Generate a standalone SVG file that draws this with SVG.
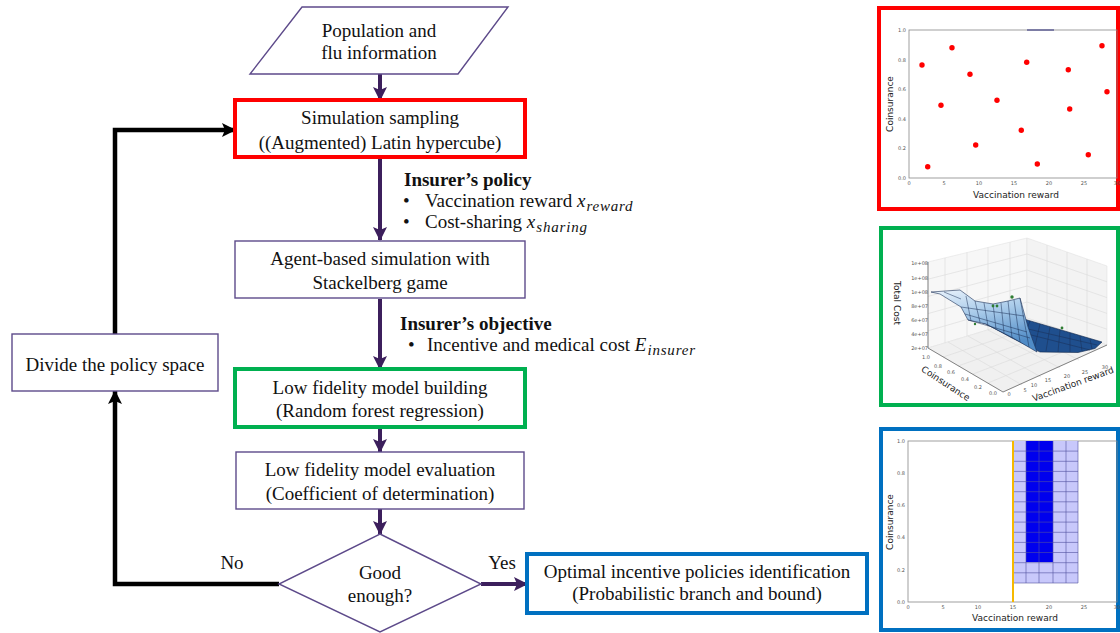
<svg xmlns="http://www.w3.org/2000/svg" width="1120" height="633" viewBox="0 0 1120 633">
<style>
.t{font-family:"Liberation Serif","Times New Roman",serif;font-size:19px;fill:#111;text-anchor:middle}
.b{font-family:"Liberation Serif","Times New Roman",serif;font-size:19px;fill:#111}
.h{font-family:"Liberation Serif","Times New Roman",serif;font-size:19px;font-weight:bold;fill:#111}
.mi{font-style:italic}
.sub{font-style:italic;font-size:15px;letter-spacing:0.8px}
.box{fill:#fff;stroke:#5d4a8a;stroke-width:1.4}
.arr{fill:none;stroke:#3c1f5c;stroke-width:4}
.blk{fill:none;stroke:#000;stroke-width:4.5}
.tk{font-family:"DejaVu Sans",sans-serif;font-size:5px;fill:#555}
.al{font-family:"DejaVu Sans",sans-serif;font-size:9px;fill:#222}
.sp{fill:none;stroke:#888;stroke-width:0.8}
.wg{fill:none;stroke:#dadada;stroke-width:0.6}
.ms{fill:none;stroke:#1b2f55;stroke-width:0.5}
</style>
<defs>
<marker id="ap" markerUnits="userSpaceOnUse" markerWidth="14" markerHeight="14" viewBox="0 0 14 14" refX="13" refY="7" orient="auto">
<path d="M0,0 L14,7 L0,14 L3,7 z" fill="#3c1f5c"/>
</marker>
<marker id="ak" markerUnits="userSpaceOnUse" markerWidth="14" markerHeight="14" viewBox="0 0 14 14" refX="13" refY="7" orient="auto">
<path d="M0,0 L14,7 L0,14 L3,7 z" fill="#000"/>
</marker>
<linearGradient id="sg" x1="0" y1="0" x2="0.3" y2="1">
<stop offset="0" stop-color="#eaf3fc"/>
<stop offset="0.45" stop-color="#a9cbea"/>
<stop offset="1" stop-color="#4f8bc6"/>
</linearGradient>
</defs>

<g id="connectors">
<path class="arr" d="M380,74 V100" marker-end="url(#ap)"/>
<path class="arr" d="M380,157 V240" marker-end="url(#ap)"/>
<path class="arr" d="M380,299 V369" marker-end="url(#ap)"/>
<path class="arr" d="M380,427 V452" marker-end="url(#ap)"/>
<path class="arr" d="M380,509 V534" marker-end="url(#ap)"/>
<path class="arr" d="M481,584 H527" marker-end="url(#ap)"/>
<path class="blk" d="M279,584 H115 V391" marker-end="url(#ak)"/>
<path class="blk" d="M115,334 V130 H235" marker-end="url(#ak)"/>
<text class="t" x="232" y="569">No</text>
<text class="t" x="502" y="569">Yes</text>
</g>

<g id="input">
<polygon class="box" points="302,7 508,7 458,74 250,74"/>
<text class="t" x="379" y="37">Population and</text>
<text class="t" x="379" y="59">flu information</text>
</g>

<g id="sampling">
<rect x="235" y="100" width="290" height="57" fill="#fff" stroke="#ff0000" stroke-width="4"/>
<text class="t" x="380" y="124">Simulation sampling</text>
<text class="t" x="380" y="149">((Augmented) Latin hypercube)</text>
</g>

<g id="policy-label">
<text class="h" x="404" y="186">Insurer’s policy</text>
<text class="b" x="403" y="207">•</text>
<text class="b" x="425" y="207">Vaccination reward <tspan class="mi">x</tspan><tspan class="sub" dx="1" dy="4">reward</tspan></text>
<text class="b" x="403" y="228">•</text>
<text class="b" x="425" y="228">Cost-sharing <tspan class="mi">x</tspan><tspan class="sub" dx="1" dy="4">sharing</tspan></text>
</g>

<g id="simulation">
<rect class="box" x="235" y="241" width="290" height="57"/>
<text class="t" x="380" y="265">Agent-based simulation with</text>
<text class="t" x="380" y="289">Stackelberg game</text>
</g>

<g id="objective-label">
<text class="h" x="400" y="330">Insurer’s objective</text>
<text class="b" x="408" y="351">•</text>
<text class="b" x="427" y="351">Incentive and medical cost <tspan class="mi">E</tspan><tspan class="sub" dx="1" dy="4">insurer</tspan></text>
</g>

<g id="divide">
<rect class="box" x="12" y="334" width="206" height="57"/>
<text class="t" x="115" y="371">Divide the policy space</text>
</g>

<g id="model-building">
<rect x="235" y="369" width="290" height="58" fill="#fff" stroke="#00b050" stroke-width="4"/>
<text class="t" x="380" y="394">Low fidelity model building</text>
<text class="t" x="380" y="417">(Random forest regression)</text>
</g>

<g id="model-evaluation">
<rect class="box" x="236" y="452" width="288" height="57"/>
<text class="t" x="380" y="476">Low fidelity model evaluation</text>
<text class="t" x="380" y="500">(Coefficient of determination)</text>
</g>

<g id="decision">
<polygon class="box" points="380,534 481,584 380,632 279,584"/>
<text class="t" x="380" y="579">Good</text>
<text class="t" x="380" y="602">enough?</text>
</g>

<g id="optimal">
<rect x="527" y="554" width="340" height="59" fill="#fff" stroke="#0070c0" stroke-width="4"/>
<text class="t" x="697" y="578">Optimal incentive policies identification</text>
<text class="t" x="697" y="600">(Probabilistic branch and bound)</text>
</g>

<g id="panel-sampling">
<rect x="879" y="8" width="239" height="201" fill="#fff" stroke="#ff0000" stroke-width="4"/>
<rect class="sp" x="909" y="30" width="208" height="148"/>
<line x1="1027" y1="30" x2="1054" y2="30" stroke="#2b2b7a" stroke-width="1"/>
<g class="tk" text-anchor="end">
<text x="906" y="32">1.0</text><text x="906" y="62">0.8</text><text x="906" y="91">0.6</text>
<text x="906" y="121">0.4</text><text x="906" y="150">0.2</text><text x="906" y="180">0.0</text>
</g>
<g class="tk" text-anchor="middle">
<text x="909" y="185">0</text><text x="944" y="185">5</text><text x="979" y="185">10</text>
<text x="1014" y="185">15</text><text x="1049" y="185">20</text><text x="1084" y="185">25</text><text x="1117" y="185">30</text>
</g>
<text class="al" x="1016" y="198" text-anchor="middle">Vaccination reward</text>
<text class="al" transform="translate(893,104) rotate(-90)" text-anchor="middle" font-size="8.5">Coinsurance</text>
<g fill="#ff0000">
<circle cx="922" cy="65" r="2.7"/><circle cx="927.7" cy="166.7" r="2.7"/><circle cx="941" cy="105.3" r="2.7"/>
<circle cx="952" cy="47.7" r="2.7"/><circle cx="970" cy="74.3" r="2.7"/><circle cx="975.7" cy="145" r="2.7"/>
<circle cx="997" cy="100.3" r="2.7"/><circle cx="1021.3" cy="130.3" r="2.7"/><circle cx="1026.7" cy="62.3" r="2.7"/>
<circle cx="1037.3" cy="164" r="2.7"/><circle cx="1068.3" cy="69.7" r="2.7"/><circle cx="1069.7" cy="109" r="2.7"/>
<circle cx="1088.3" cy="154.7" r="2.7"/><circle cx="1102" cy="45.7" r="2.7"/><circle cx="1107" cy="91.7" r="2.7"/>
</g>
</g>

<g id="panel-surface">
<rect x="881" y="228" width="237" height="177" fill="#fff" stroke="#00b050" stroke-width="4"/>
<polygon points="928,262 1027,238 1027,318 928,348" fill="#f7f7f7" stroke="#e2e2e2" stroke-width="0.6"/>
<polygon points="1027,238 1107,266 1107,345 1027,318" fill="#f3f3f3" stroke="#e2e2e2" stroke-width="0.6"/>
<polygon points="928,348 1027,318 1107,345 1003,392" fill="#f0f0f0" stroke="#e2e2e2" stroke-width="0.6"/>
<g class="wg">
<path d="M945,257.9 V342.8 M967,252.5 V336.2 M988,247.5 V329.8 M1010,242.1 V323.2"/>
<path d="M928,279.2 L1027,254 M928,296.4 L1027,270 M928,313.6 L1027,286 M928,330.8 L1027,302"/>
<path d="M1047,245 V324.8 M1067,252 V331.5 M1087,259 V338.3"/>
<path d="M1027,254 L1107,281.8 M1027,270 L1107,297.6 M1027,286 L1107,313.4 M1027,302 L1107,329.2"/>
<path d="M943,357 L1043,324 M958,366 L1060,330 M973,374 L1076,335 M988,383 L1092,340"/>
<path d="M948,342 L1022,385 M968,336 L1041,377 M988,330 L1060,368 M1008,324 L1079,360"/>
</g>
<path d="M928,262 V348 L1003,392 L1107,345" fill="none" stroke="#555" stroke-width="0.7"/>
<polygon points="968,318 1000,312 1102,342 1095,348.5 1078,352.5 1040,352 1012,338 986,324" fill="#1f4f8e" stroke="#0e2447" stroke-width="0.6"/>
<g class="ms" stroke="#0c1f3e">
<path d="M1010,315 L1000,329 M1020,318 L1010,334 M1030,321 L1022,341 M1040,324 L1034,350 M1050,327 L1046,351 M1060,330 L1058,352 M1070,333 L1070,352 M1080,336 L1082,351 M1090,339 L1092,349"/>
<path d="M985,319 L1097,345 M992,325 L1090,350"/>
</g>
<polygon points="931,292 960,290 975,301 993,304 1008,301 1020,298 1028,327 1037,352 1013,338 986,324 968,320 961,307 940,294" fill="url(#sg)" stroke="#1b2f55" stroke-width="0.6"/>
<g class="ms">
<path d="M966,296 L971,321 M975,301 L980,322 M984,303 L988,326 M993,304 L996,329 M1001,303 L1004,333 M1008,301 L1012,338 M1014,300 L1020,342 M1020,298 L1029,347"/>
<path d="M961,307 L1024,316 M965,314 L1027,332 M944,292 L961,299 M968,320 L1030,338"/>
</g>
<g fill="#2e7d32">
<circle cx="1012" cy="297" r="1.7"/><circle cx="993" cy="306" r="1.4"/><circle cx="997" cy="306" r="1.4"/>
<circle cx="1062" cy="328" r="1.4"/><circle cx="975" cy="324" r="1.2"/>
</g>
<g class="tk" text-anchor="end">
<text x="928" y="265">1e+08</text><text x="928" y="280">1e+08</text><text x="928" y="294">1e+08</text>
<text x="928" y="308">8e+07</text><text x="928" y="322">6e+07</text><text x="928" y="336">4e+07</text><text x="928" y="350">2e+07</text>
</g>
<g class="tk" text-anchor="middle">
<text x="926" y="359">1.0</text><text x="938" y="368">0.8</text><text x="951" y="374">0.6</text>
<text x="965" y="381">0.4</text><text x="978" y="389">0.2</text><text x="993" y="395">0.0</text>
<text x="1009" y="396">0</text><text x="1025" y="392">5</text><text x="1034" y="387">10</text>
<text x="1048" y="382">15</text><text x="1067" y="378">20</text><text x="1085" y="374">25</text><text x="1105" y="369">30</text>
</g>
<text class="al" transform="translate(894,303) rotate(90)" text-anchor="middle">Total Cost</text>
<text class="al" transform="translate(944,386) rotate(33)" text-anchor="middle">Coinsurance</text>
<text class="al" transform="translate(1074,387) rotate(-20)" text-anchor="middle">Vaccination reward</text>
</g>

<g id="panel-branch">
<rect x="881" y="429" width="237" height="201" fill="#fff" stroke="#0070c0" stroke-width="4"/>
<rect class="sp" x="908" y="441" width="209" height="161"/>
<rect x="1013" y="441" width="65" height="142" fill="#c8c8fb"/>
<rect x="1026" y="441" width="27" height="121" fill="#0000ee"/>
<g fill="none" stroke="#5050a0" stroke-width="0.6">
<path d="M1026,441 V583 M1039,441 V583 M1053,441 V583 M1066,441 V583 M1078,441 V583 M1013,583 H1078"/>
<path d="M1013,451.1 H1078 M1013,461.3 H1078 M1013,471.4 H1078 M1013,481.6 H1078 M1013,491.7 H1078 M1013,501.8 H1078 M1013,512 H1078 M1013,522.1 H1078 M1013,532.3 H1078 M1013,542.4 H1078 M1013,552.5 H1078 M1013,562.7 H1078 M1013,572.8 H1078"/>
</g>
<line x1="1013" y1="441" x2="1013" y2="602" stroke="#f6b900" stroke-width="2"/>
<g class="tk" text-anchor="end">
<text x="905" y="443">1.0</text><text x="905" y="475">0.8</text><text x="905" y="507">0.6</text>
<text x="905" y="539">0.4</text><text x="905" y="572">0.2</text><text x="905" y="604">0.0</text>
</g>
<g class="tk" text-anchor="middle">
<text x="908" y="609">0</text><text x="943" y="609">5</text><text x="978" y="609">10</text>
<text x="1013" y="609">15</text><text x="1049" y="609">20</text><text x="1084" y="609">25</text><text x="1117" y="609">30</text>
</g>
<text class="al" x="1015" y="621" text-anchor="middle">Vaccination reward</text>
<text class="al" transform="translate(893,522) rotate(-90)" text-anchor="middle" font-size="8.5">Coinsurance</text>
</g>
</svg>
